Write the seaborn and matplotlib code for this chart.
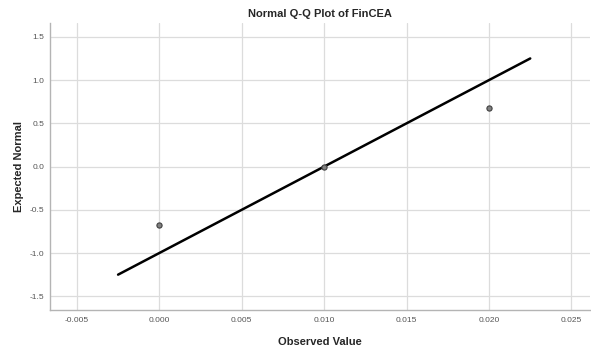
import matplotlib
matplotlib.use("Agg")
import matplotlib.pyplot as plt
import numpy as np
import pandas as pd
import seaborn as sb

# Observed values and their expected normal scores
observed = [0.000, 0.010, 0.020]
expected = [-0.674, 0.000, 0.674]

# Reference line endpoints
line_x = [-0.0025, 0.0225]
line_y = [-1.25, 1.25]

x_ticks = [-0.005, 0.000, 0.005, 0.010, 0.015, 0.020, 0.025]
y_ticks = [-1.5, -1.0, -0.5, 0.0, 0.5, 1.0, 1.5]

sb.set_style("white")
plt.rcParams["font.family"] = ["Liberation Sans", "DejaVu Sans"]

fig = plt.figure(figsize=(5.91, 3.54), dpi=100)
ax = fig.add_axes([0.0846, 0.124, 0.913, 0.811])

data = pd.DataFrame({"Observed Value": observed, "Expected Normal": expected})

ax.plot(line_x, line_y, color="black", linewidth=1.8, solid_capstyle="round", zorder=3)
sb.scatterplot(data=data, x="Observed Value", y="Expected Normal", ax=ax,
               color="#808080", edgecolor="#404040", linewidth=0.8, s=14, zorder=4)

ax.set_xlim(-0.00663, 0.0261)
ax.set_ylim(-1.66, 1.66)
ax.set_xticks(x_ticks)
ax.set_xticklabels([f"{t:.3f}" for t in x_ticks])
ax.set_yticks(y_ticks)
ax.set_yticklabels([f"{t:.1f}" for t in y_ticks])

ax.grid(True, color="#dcdcdc", linewidth=0.9)
ax.set_axisbelow(True)
for side in ["top", "right"]:
    ax.spines[side].set_visible(False)
for side in ["left", "bottom"]:
    ax.spines[side].set_color("#b4b4b4")
    ax.spines[side].set_linewidth(1.0)

ax.tick_params(axis="x", length=0, labelsize=6, labelcolor="#555555", pad=5)
ax.tick_params(axis="y", length=0, labelsize=6, labelcolor="#555555", pad=4)

ax.set_xlabel("Observed Value", fontsize=8, fontweight="bold", labelpad=9)
ax.set_ylabel("Expected Normal", fontsize=8, fontweight="bold", labelpad=4)
ax.set_title("Normal Q-Q Plot of FinCEA", fontsize=8, fontweight="bold", pad=4)

plt.savefig("out.png", dpi=100)
